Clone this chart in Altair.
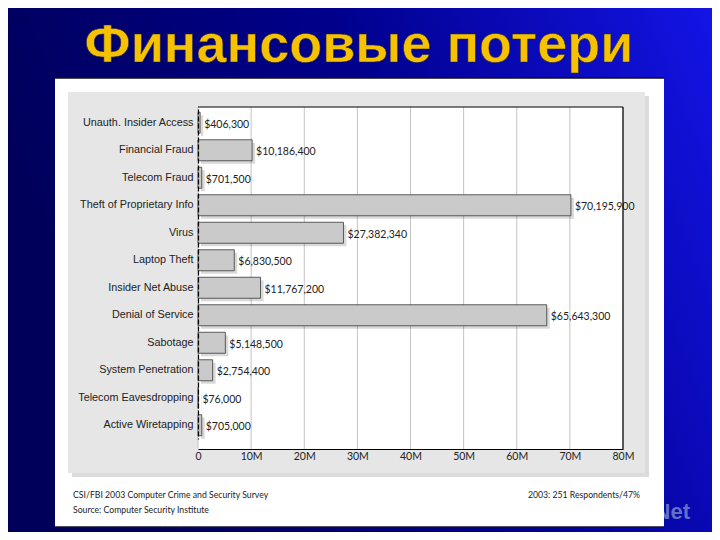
import altair as alt
import pandas as pd

# ---- data ----
categories = [
    "Unauth. Insider Access", "Financial Fraud", "Telecom Fraud",
    "Theft of Proprietary Info", "Virus", "Laptop Theft",
    "Insider Net Abuse", "Denial of Service", "Sabotage",
    "System Penetration", "Telecom Eavesdropping", "Active Wiretapping",
]
losses = [406300, 10186400, 701500, 70195900, 27382340, 6830500,
          11767200, 65643300, 5148500, 2754400, 76000, 705000]
tick_values = [0, 10000000, 20000000, 30000000, 40000000,
               50000000, 60000000, 70000000, 80000000]
title_text = "Финансовые потери"
footer_left_1 = "CSI/FBI 2003 Computer Crime and Security Survey"
footer_left_2 = "Source: Computer Security Institute"
footer_right = "2003: 251 Respondents/47%"
logo_text = "InNet"

df = pd.DataFrame({"category": categories, "loss": losses})
grid_df = pd.DataFrame({"tick": tick_values})
one = alt.Data(values=[{"k": 1}])

# ---- layout (plot area origin = page (198,107)) ----
W, H = 425, 342
PL, PT = 190, 99
TW, TH = 704, 524

x_scale = alt.Scale(domain=[0, 80000000], nice=False, zero=True)
y_scale = alt.Scale(domain=categories, range=[2, 332], paddingInner=0, paddingOuter=0)

def rect(x, x2, y, y2, **kw):
    return alt.Chart(one).mark_rect(**kw).encode(
        x=alt.value(x), x2=alt.value(x2), y=alt.value(y), y2=alt.value(y2))

def label(txt, x, y, **kw):
    return alt.Chart(one).mark_text(text=txt, **kw).encode(
        x=alt.value(x), y=alt.value(y))

bg = rect(-PL, TW - PL, -PT, TH - PT, color=alt.Gradient(
    gradient="linear",
    stops=[alt.GradientStop(color="#00005a", offset=0),
           alt.GradientStop(color="#00008c", offset=0.5),
           alt.GradientStop(color="#1414e6", offset=1)],
    x1=0, y1=0.3, x2=1, y2=0))

logo = label(logo_text, 492, 405, font="Liberation Sans", fontWeight="bold",
             fontSize=22, color="#7482cc", align="right", baseline="middle", opacity=0.85)

title = label(title_text, 161, -45, font="Liberation Sans", fontWeight="bold",
              fontSize=54, color="#f6c200", align="center", baseline="alphabetic",
              stroke="#2a2a40", strokeWidth=0.6)

white_panel = rect(-143, 466, -29, 420, color="#ffffff")
top_line = alt.Chart(one).mark_rule(color="#111111", strokeWidth=1.5).encode(
    x=alt.value(-143), x2=alt.value(466), y=alt.value(-29))
bottom_line = alt.Chart(one).mark_rule(color="#111133", strokeWidth=1.5).encode(
    x=alt.value(-143), x2=alt.value(466), y=alt.value(420))

gray_shadow = rect(-126, 451, -11, 370, color="#c4c4c4", opacity=0.6)
gray_panel = rect(-130, 447, -15, 366, color="#e6e6e6")
plot_bg = rect(0, W, 0, H, color="#ffffff")

x_axis = alt.Axis(values=tick_values, grid=False, ticks=False,
                  domain=True, domainColor="#000000", domainWidth=1.2,
                  labelExpr="datum.value == 0 ? '0' : (datum.value/1000000) + 'M'",
                  labelFont="Lato", labelFontSize=10.5, labelColor="#222222",
                  labelPadding=2, labelFlush=False, zindex=1, title=None)
y_axis = alt.Axis(ticks=False, domain=True, domainColor="#000000",
                  domainWidth=1.2, domainDash=[5, 2],
                  labelFont="Liberation Sans", labelFontSize=10.8,
                  labelColor="#222222", labelPadding=5, labelLimit=300,
                  zindex=1, title=None)

X = alt.X("loss:Q", scale=x_scale, title=None, axis=x_axis)
Y = alt.Y("category:N", scale=y_scale, sort=categories, title=None, axis=y_axis)

grid = alt.Chart(grid_df).mark_rule(color="#c4c4c4", strokeWidth=1).encode(
    x=alt.X("tick:Q", scale=x_scale, title=None, axis=x_axis),
    y=alt.value(0), y2=alt.value(H))

bar_shadow = alt.Chart(df).mark_bar(size=21, color="#000000", opacity=0.15,
                                    xOffset=3, yOffset=3).encode(x=X, y=Y)

bars = alt.Chart(df).mark_bar(size=21, color="#cacaca", stroke="#3a3a3a",
                              strokeWidth=0.8).encode(x=X, y=Y)

values_text = alt.Chart(df).mark_text(align="left", baseline="middle", dx=4, dy=2,
                                      font="Lato", fontSize=10.5, color="#222222").encode(
    x=X, y=Y, text=alt.Text("loss:Q", format="$,.0f"))

frame_top = alt.Chart(one).mark_rule(color="#000000", strokeWidth=1.2).encode(
    x=alt.value(0), x2=alt.value(W), y=alt.value(0))
frame_right = alt.Chart(one).mark_rule(color="#000000", strokeWidth=1.2).encode(
    x=alt.value(W), y=alt.value(0), y2=alt.value(H))

foot1 = label(footer_left_1, -125, 388, font="Lato", fontSize=8.7, color="#222222",
              align="left", baseline="middle")
foot2 = label(footer_left_2, -125, 403, font="Lato", fontSize=8.7, color="#222222",
              align="left", baseline="middle")
foot3 = label(footer_right, 442, 388, font="Lato", fontSize=8.7, color="#222222",
              align="right", baseline="middle")

chart = alt.layer(
    bg, logo, title, white_panel, top_line, bottom_line,
    gray_shadow, gray_panel, plot_bg, grid, bar_shadow, bars, values_text,
    frame_top, frame_right, foot1, foot2, foot3,
).properties(
    width=W, height=H, autosize="none", background="#000066",
    padding={"left": PL, "top": PT, "right": TW - PL - W, "bottom": TH - PT - H},
).configure_view(stroke=None)

chart.save("out.html", embed_options={"renderer": "svg", "actions": False})
